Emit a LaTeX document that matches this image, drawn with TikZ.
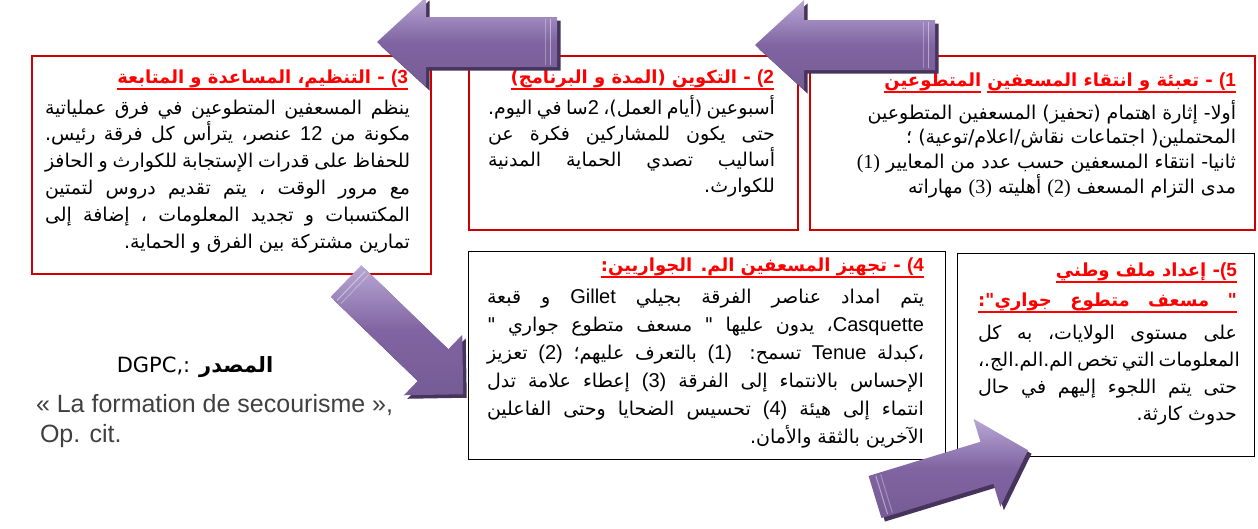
\documentclass[tikz,border=0pt]{standalone}
\usepackage{fontspec}
\setmainfont{DejaVu Sans}
\newfontfamily\arabicfont[Script=Arabic]{DejaVu Sans}
\newfontfamily\latinsans{Liberation Sans}
\newfontfamily\latinserif{Liberation Serif}
\newfontfamily\plainsans{DejaVu Sans}
\TeXXeTstate=1
\usetikzlibrary{calc}

\definecolor{boxred}{RGB}{204,0,0}
\definecolor{hdrred}{RGB}{255,0,0}
\definecolor{arrowmain}{RGB}{128,100,162}
\definecolor{arrowlight}{RGB}{184,168,212}
\definecolor{arrowdark}{RGB}{70,52,92}
\definecolor{srcgray}{RGB}{64,64,64}

% fonts for the panels
\newcommand\bodyfont{\arabicfont\fontsize{19pt}{26pt}\selectfont}
\newcommand\hdrfont{\arabicfont\bfseries\fontsize{18pt}{22pt}\selectfont}
\newcommand\lw[1]{{\latinsans\fontsize{20pt}{20pt}\selectfont #1}}
\newcommand\lwb[1]{{\latinsans\bfseries\fontsize{19pt}{19pt}\selectfont #1}}
\newcommand\tn[1]{{\latinserif\fontsize{20pt}{20pt}\selectfont #1}}
% one line of a panel: justified (\jl) or flush right (\rl)
\newcommand\jl[2]{\hbox to #1{#2}}
\newcommand\rl[2]{\hbox to #1{\hfil #2}}
\newcommand\lines[2]{\vtop{\baselineskip=#1\lineskiplimit=-100pt\lineskip=0pt #2}}

% a bevelled block arrow: tail centre (#1,#2), direction #3, length #4,
% shaft half width #5, head half width #6, head length #7
\newcommand\blockarrow[7]{%
  \begin{scope}[shift={(#1+3.5,#2+3.5)},rotate=#3]
    \fill[arrowdark] (0,-#5) -- ({#4-#7},-#5) -- ({#4-#7},-#6) -- (#4,0)
      -- ({#4-#7},#6) -- ({#4-#7},#5) -- (0,#5) -- cycle;
  \end{scope}
  \begin{scope}[shift={(#1,#2)},rotate=#3]
    \shade[top color=arrowlight, bottom color=arrowmain!92!black, middle color=arrowmain]
      (0,-#5) -- ({#4-#7},-#5) -- ({#4-#7},-#6) -- (#4,0)
      -- ({#4-#7},#6) -- ({#4-#7},#5) -- (0,#5) -- cycle;
    \draw[white, opacity=0.45, line width=1pt] (7,{-#5+2}) -- (7,{#5-2});
    \draw[white, opacity=0.3, line width=1pt] (12,{-#5+2}) -- (12,{#5-2});
  \end{scope}}

\begin{document}
\begin{tikzpicture}[x=1pt,y=-1pt,
  redbox/.style={draw=boxred, line width=1.6pt, anchor=north west, inner sep=0pt},
  blackbox/.style={draw=black, line width=1.4pt, anchor=north west, inner sep=0pt},
  txt/.style={inner sep=0pt, outer sep=0pt, anchor=base east},
  hdr/.style={txt, text=hdrred, font=\hdrfont},
  ul/.style={draw=hdrred, line width=2.4pt},
  src/.style={inner sep=0pt, outer sep=0pt, text=srcgray}]
\useasboundingbox (0,0) rectangle (1258,528);

% panels
\node[redbox, minimum width=445pt, minimum height=174pt] (b1) at (809,55) {};
\node[redbox, minimum width=329pt, minimum height=174pt] (b2) at (468,55) {};
\node[redbox, minimum width=399pt, minimum height=218pt] (b3) at (31,55) {};
\node[blackbox, minimum width=477pt, minimum height=208pt] (b4) at (468,251) {};
\node[blackbox, minimum width=297pt, minimum height=203pt] (b5) at (957,253) {};

% panel 1 (title underlined in two pieces)
\node[hdr] (h1a) at (1236,86) {\beginR\lwb{(1} - تعبئة و انتقاء المسعفين\endR};
\node[hdr] (h1b) at ([xshift=-6pt]h1a.base west) {\beginR المتطوعين\endR};
\draw[ul] ([yshift=-6pt]h1a.base west) -- ([yshift=-6pt]h1a.base east);
\draw[ul] ([yshift=-6pt]h1b.base west) -- ([yshift=-6pt]h1b.base east);
\node[txt] (p1) at (1236,119) {\bodyfont\lines{24.7pt}{%
  \rl{430pt}{\beginR أولا- إثارة اهتمام (تحفيز) المسعفين المتطوعين\endR}
  \rl{430pt}{\beginR المحتملين( اجتماعات نقاش/اعلام/توعية) ؛\endR}
  \rl{430pt}{\beginR ثانيا- انتقاء المسعفين حسب عدد من المعايير \tn{(1)}\endR}
  \rl{430pt}{\beginR مدى التزام المسعف \tn{(2)} أهليته \tn{(3)} مهاراته\endR}}};

% panel 2
\node[hdr] (h2) at (774,83) {\beginR\lwb{(2} - التكوين (المدة و البرنامج)\endR};
\draw[ul] ([yshift=-6pt]h2.base west) -- ([yshift=-6pt]h2.base east);
\node[txt] (p2) at (775,114) {\bodyfont\lines{26pt}{%
  \jl{287pt}{\beginR أسبوعين (أيام العمل)، \lw{2}سا في اليوم.\endR}
  \jl{287pt}{\beginR حتى يكون للمشاركين فكرة عن\endR}
  \jl{287pt}{\beginR أساليب تصدي الحماية المدنية\endR}
  \rl{287pt}{\beginR للكوارث.\endR}}};

% panel 3
\node[hdr] (h3) at (408,83) {\beginR\lwb{(3} - التنظيم، المساعدة و المتابعة\endR};
\draw[ul] ([yshift=-6pt]h3.base west) -- ([yshift=-6pt]h3.base east);
\node[txt] (p3) at (410,114) {\bodyfont\lines{26.8pt}{%
  \jl{365pt}{\beginR ينظم المسعفين المتطوعين في فرق عملياتية\endR}
  \jl{365pt}{\beginR مكونة من \lw{12} عنصر، يترأس كل فرقة رئيس.\endR}
  \jl{365pt}{\beginR للحفاظ على قدرات الإستجابة للكوارث و الحافز\endR}
  \jl{365pt}{\beginR مع مرور الوقت ، يتم تقديم دروس لتمتين\endR}
  \jl{365pt}{\beginR المكتسبات و تجديد المعلومات ، إضافة إلى\endR}
  \rl{365pt}{\beginR تمارين مشتركة بين الفرق و الحماية.\endR}}};

% panel 4
\node[hdr] (h4) at (924,271) {\beginR\lwb{(4} - تجهيز المسعفين الم. الجواريين:\endR};
\draw[ul] ([yshift=-6pt]h4.base west) -- ([yshift=-6pt]h4.base east);
\node[txt] (p4) at (924,303) {\bodyfont\lines{28pt}{%
  \jl{437pt}{\beginR يتم امداد عناصر الفرقة بجيلي \lw{Gillet} و قبعة\endR}
  \jl{437pt}{\beginR \lw{Casquette}، يدون عليها " مسعف متطوع جواري "\endR}
  \jl{437pt}{\beginR ،كبدلة \lw{Tenue} تسمح: \lw{(1)} بالتعرف عليهم؛ \lw{(2)} تعزيز\endR}
  \jl{437pt}{\beginR الإحساس بالانتماء إلى الفرقة \lw{(3)} إعطاء علامة تدل\endR}
  \jl{437pt}{\beginR انتماء إلى هيئة \lw{(4)} تحسيس الضحايا وحتى الفاعلين\endR}
  \rl{437pt}{\beginR الآخرين بالثقة والأمان.\endR}}};

% panel 5
\node[hdr] (h5a) at (1237,276) {\beginR\lwb{(5}- إعداد ملف وطني\endR};
\draw[ul] ([yshift=-6pt]h5a.base west) -- ([yshift=-6pt]h5a.base east);
\node[hdr] (h5b) at (1237,306) {\jl{259pt}{\beginR " مسعف متطوع جواري":\endR}};
\draw[ul] ([yshift=-6pt]h5b.base west) -- ([yshift=-6pt]h5b.base east);
\node[txt] (p5) at (1237,339) {\bodyfont\lines{27pt}{%
  \jl{259pt}{\beginR على مستوى الولايات، به كل\endR}
  \jl{259pt}{\beginR المعلومات التي تخص الم.الم.الج.،\endR}
  \jl{259pt}{\beginR حتى يتم اللجوء إليهم في حال\endR}
  \rl{259pt}{\beginR حدوث كارثة.\endR}}};

% source note
\node[src, anchor=base, text=black] (s1) at (195,372)
  {\plainsans\fontsize{21pt}{21pt}\selectfont DGPC,: {\arabicfont\bfseries\beginR المصدر\endR}};
\node[src, anchor=base west] (s2) at (36,412)
  {\latinsans\fontsize{25pt}{25pt}\selectfont « La formation de secourisme »,};
\node[src, anchor=base west] (s3) at (40,442)
  {\latinsans\fontsize{25pt}{25pt}\selectfont Op. cit.};

% arrows between the panels
\blockarrow{557}{42}{180}{180}{25}{45}{49}
\blockarrow{935}{45}{180}{180}{25}{45}{49}
\blockarrow{346}{281}{-44}{163}{22}{42}{42}
\blockarrow{875}{497}{17}{160}{22}{46}{43}
\end{tikzpicture}
\end{document}
